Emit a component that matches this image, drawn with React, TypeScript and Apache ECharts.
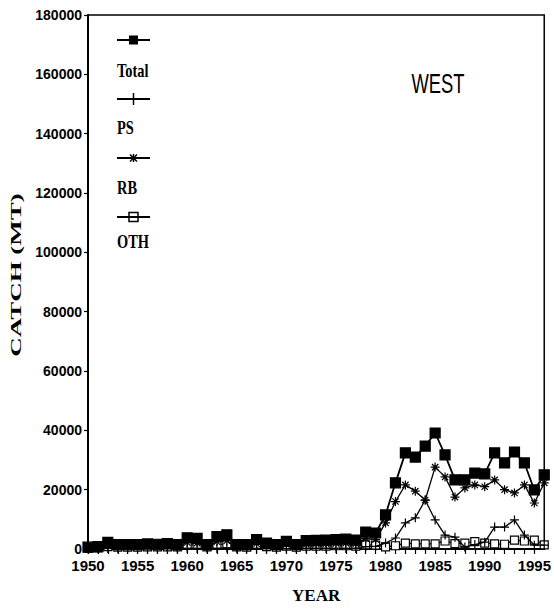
import React, { useEffect, useRef } from "react";
import * as echarts from "echarts";

// Catch by gear, western area, 1950–1996 (metric tons)
const years: number[] = [
  1950, 1951, 1952, 1953, 1954, 1955, 1956, 1957, 1958, 1959,
  1960, 1961, 1962, 1963, 1964, 1965, 1966, 1967, 1968, 1969,
  1970, 1971, 1972, 1973, 1974, 1975, 1976, 1977, 1978, 1979,
  1980, 1981, 1982, 1983, 1984, 1985, 1986, 1987, 1988, 1989,
  1990, 1991, 1992, 1993, 1994, 1995, 1996,
];

const totalCatch: number[] = [
  600, 800, 2200, 1500, 1500, 1500, 1700, 1600, 1800, 1500,
  3800, 3600, 1500, 4200, 4800, 1500, 1500, 3200, 2000, 1500,
  2600, 1500, 2800, 2900, 3000, 3200, 3300, 3000, 5700, 5400,
  11500, 22300, 32400, 31000, 34700, 39100, 31700, 23300, 23300, 25600,
  25300, 32400, 29000, 32700, 29000, 19900, 25000,
];

const psCatch: number[] = [
  0, 0, 200, 100, 100, 100, 100, 100, 100, 100,
  200, 200, 100, 200, 300, 100, 100, 200, 100, 100,
  100, 100, 200, 200, 200, 200, 200, 200, 800, 900,
  2000, 3700, 8800, 10500, 16500, 9800, 4700, 4000, 700, 1500,
  2300, 7400, 7400, 9800, 4700, 1300, 1300,
];

const rbCatch: number[] = [
  300, 400, 1200, 800, 800, 800, 900, 800, 1000, 700,
  2200, 2000, 700, 2500, 2800, 700, 800, 1800, 1100, 800,
  1500, 800, 1600, 1700, 1800, 1900, 2000, 1800, 3500, 3200,
  8800, 16000, 21600, 19500, 16500, 27600, 24300, 17500, 20600, 21600,
  21000, 23300, 20000, 18900, 21600, 15500, 22300,
];

const othCatch: number[] = [
  300, 400, 800, 600, 600, 600, 700, 700, 700, 700,
  1400, 1400, 700, 1500, 1700, 700, 600, 1200, 800, 600,
  1000, 600, 1000, 1000, 1000, 1100, 1100, 1000, 1400, 1300,
  700, 1100, 2000, 1700, 1700, 1700, 2700, 1800, 2000, 2500,
  2000, 1700, 1600, 3000, 2700, 3000, 1400,
];

const yearTickStep = 5;
const catchTicks: number[] = [0, 20000, 40000, 60000, 80000, 100000, 120000, 140000, 160000, 180000];
const legendNames: string[] = ["Total", "PS", "RB", "OTH"];

const SANS = "'Liberation Sans', Arial, sans-serif";
const SERIF = "'Liberation Serif', 'DejaVu Serif', serif";

const plusPath = "path://M0,5L10,5M5,0L5,10";
const starPath = "path://M0,5L10,5M5,0L5,10M1.5,1.5L8.5,8.5M8.5,1.5L1.5,8.5";

const pairs = (vals: number[]) => years.map((y, i) => [y, vals[i]]);

// Legend swatch: a short line with the series marker drawn over its middle
function legendEntry(kind: string, lineY: number, labelY: number, label: string) {
  const x0 = 117;
  const x1 = 150;
  const cx = 133.5;
  const stroke = { stroke: "#000", lineWidth: 1.5 };
  const children: any[] = [
    { type: "line", shape: { x1: x0, y1: lineY, x2: x1, y2: lineY }, style: { ...stroke, lineWidth: 2 } },
  ];
  if (kind === "square") {
    children.push({ type: "rect", shape: { x: cx - 4.5, y: lineY - 4.5, width: 9, height: 9 }, style: { fill: "#000" } });
  } else if (kind === "plus") {
    children.push({ type: "line", shape: { x1: cx, y1: lineY - 6, x2: cx, y2: lineY + 6 }, style: stroke });
  } else if (kind === "star") {
    children.push({ type: "line", shape: { x1: cx - 3.5, y1: lineY - 3.5, x2: cx + 3.5, y2: lineY + 3.5 }, style: stroke });
    children.push({ type: "line", shape: { x1: cx + 3.5, y1: lineY - 3.5, x2: cx - 3.5, y2: lineY + 3.5 }, style: stroke });
    children.push({ type: "line", shape: { x1: cx, y1: lineY - 4, x2: cx, y2: lineY + 4 }, style: stroke });
  } else if (kind === "open") {
    children.push({ type: "rect", shape: { x: cx - 4.5, y: lineY - 4.5, width: 9, height: 9 }, style: { fill: "none", ...stroke } });
  }
  children.push({
    type: "text",
    x: x0,
    y: labelY,
    scaleX: 0.8,
    style: {
      text: label,
      font: `bold 18px ${SERIF}`,
      fill: "#000",
      align: "left",
      verticalAlign: "middle",
    },
  });
  return { type: "group", children };
}

export default function App() {
  const ref = useRef<HTMLDivElement>(null);

  useEffect(() => {
    if (!ref.current) return;
    const chart = echarts.init(ref.current, null, { renderer: "svg" });

    const lineSeries = (name: string, vals: number[], symbol: string, opts: any = {}) => ({
      name,
      type: "line",
      data: pairs(vals),
      symbol,
      symbolSize: 9,
      showSymbol: true,
      lineStyle: { color: "#000", width: 1.3 },
      itemStyle: { color: "#000", borderColor: "#000", borderWidth: 1.2 },
      emphasis: { disabled: true },
      ...opts,
    });

    chart.setOption({
      animation: false,
      backgroundColor: "#fff",
      grid: {
        left: 88,
        right: 1,
        top: 15,
        bottom: 64,
        show: true,
        borderColor: "#000",
        borderWidth: 1.5,
      },
      xAxis: {
        type: "value",
        min: years[0],
        max: years[years.length - 1],
        interval: 1,
        name: "YEAR",
        nameLocation: "middle",
        nameGap: 38,
        nameTextStyle: { fontFamily: SERIF, fontWeight: "bold", fontSize: 17, color: "#000" },
        axisLine: { show: true, lineStyle: { color: "#000", width: 2 } },
        axisTick: { show: true, inside: false, length: 5, lineStyle: { color: "#000", width: 1.2 } },
        axisLabel: {
          color: "#000",
          fontFamily: SANS,
          fontWeight: "bold",
          fontSize: 15,
          margin: 9,
          showMaxLabel: false,
          formatter: (v: number) => (v % yearTickStep === 0 ? String(v) : ""),
        },
        splitLine: { show: false },
      },
      yAxis: {
        type: "value",
        min: catchTicks[0],
        max: catchTicks[catchTicks.length - 1],
        interval: catchTicks[1] - catchTicks[0],
        axisLine: { show: true, lineStyle: { color: "#000", width: 2 } },
        axisTick: { show: true, inside: false, length: 4, lineStyle: { color: "#000", width: 1.2 } },
        axisLabel: {
          color: "#000",
          fontFamily: SANS,
          fontWeight: "bold",
          fontSize: 14,
          margin: 6,
          formatter: (v: number) => String(v),
        },
        splitLine: { show: false },
      },
      graphic: [
        {
          type: "text",
          x: 16,
          y: 275,
          rotation: Math.PI / 2,
          scaleX: 1.8,
          style: {
            text: "CATCH (MT)",
            font: `bold 15px ${SERIF}`,
            fill: "#000",
            align: "center",
            verticalAlign: "middle",
          },
        },
        {
          type: "text",
          x: 438,
          y: 84,
          scaleX: 0.68,
          style: {
            text: "WEST",
            font: `27px ${SANS}`,
            fill: "#000",
            align: "center",
            verticalAlign: "middle",
          },
        },
        legendEntry("square", 40, 71, legendNames[0]),
        legendEntry("plus", 99, 128, legendNames[1]),
        legendEntry("star", 158, 188, legendNames[2]),
        legendEntry("open", 217, 242, legendNames[3]),
      ],
      series: [
        lineSeries(legendNames[3], othCatch, "rect", {
          symbolSize: 8,
          itemStyle: { color: "#fff", borderColor: "#000", borderWidth: 1.2 },
          z: 2,
        }),
        lineSeries(legendNames[2], rbCatch, starPath, { symbolSize: 9, z: 3 }),
        lineSeries(legendNames[1], psCatch, plusPath, { symbolSize: 9, z: 4 }),
        lineSeries(legendNames[0], totalCatch, "rect", {
          symbolSize: 10,
          lineStyle: { color: "#000", width: 1.8 },
          z: 5,
        }),
      ],
    });

    return () => chart.dispose();
  }, []);

  return <div ref={ref} style={{ position: "absolute", left: 0, top: 0, width: 554, height: 613 }} />;
}
